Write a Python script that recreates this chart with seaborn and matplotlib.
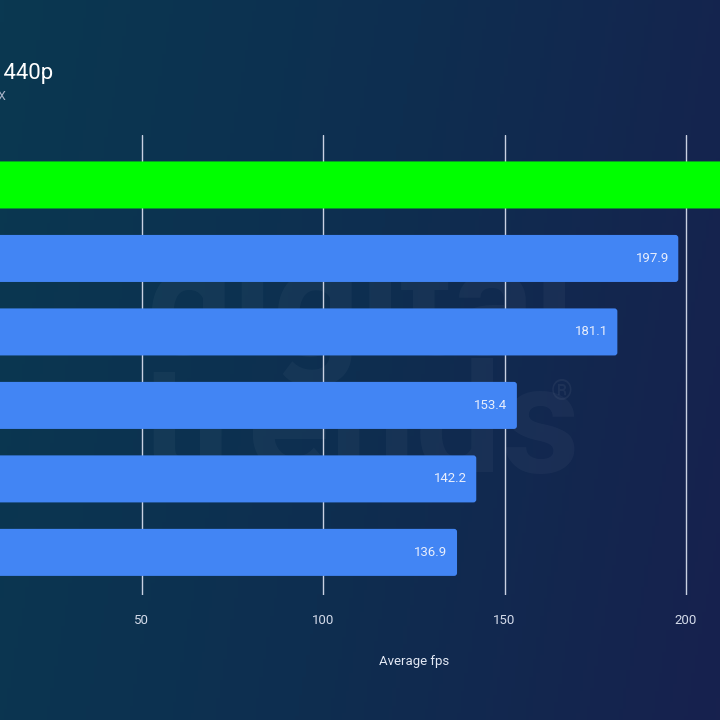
import numpy as np
import pandas as pd
import matplotlib
matplotlib.use("Agg")
import matplotlib.pyplot as plt
import seaborn as sns
from matplotlib.patches import FancyBboxPatch
from matplotlib.colors import LinearSegmentedColormap

# Données (les libellés des catégories sont hors cadre dans l'image)
categories = ["Config 1", "Config 2", "Config 3", "Config 4", "Config 5", "Config 6"]
fps = [224.0, 197.9, 181.1, 153.4, 142.2, 136.9]
bar_colors = ["#00ff00", "#4285f4", "#4285f4", "#4285f4", "#4285f4", "#4285f4"]
x_ticks = [50, 100, 150, 200]

df = pd.DataFrame({"config": categories, "fps": fps})

sns.set_theme(style="white")
plt.rcParams["font.family"] = ["Roboto", "DejaVu Sans"]

fig = plt.figure(figsize=(7.2, 7.2), dpi=100)

# fond en dégradé (surtout horizontal)
bg = fig.add_axes([0, 0, 1, 1], zorder=0)
xx, yy = np.meshgrid(np.linspace(0, 1, 200), np.linspace(0, 1, 200))
t = np.clip(0.85 * xx + 0.15 * yy, 0, 1)
cmap = LinearSegmentedColormap.from_list("bg", ["#0a3851", "#0e2e50", "#17214e"])
bg.imshow(t, cmap=cmap, extent=[0, 1, 0, 1], aspect="auto", origin="upper")
bg.set_axis_off()

# watermark très discret
bg.text(0.50, 0.565, "digital", fontsize=110, fontweight="bold", color="white",
        alpha=0.035, ha="center", va="center", transform=bg.transAxes)
bg.text(0.50, 0.40, "trends", fontsize=110, fontweight="bold", color="white",
        alpha=0.035, ha="center", va="center", transform=bg.transAxes)
bg.text(0.78, 0.455, "®", fontsize=20, color="white",
        alpha=0.05, ha="center", va="center", transform=bg.transAxes)

# axe principal : 0 fps est hors cadre à gauche
W = 720
left_px, right_px = -39.5, -39.5 + 250 * 3.627
ax = fig.add_axes([left_px / W, (720 - 595) / 720, (right_px - left_px) / W, 460 / 720], zorder=1)
ax.patch.set_alpha(0)

sns.barplot(data=df, x="fps", y="config", hue="config", palette=bar_colors,
            legend=False, width=0.64, ax=ax, zorder=3, saturation=1)

ax.set_xlim(0, 250)
ax.set_ylim(5.58, -0.68)

# coins arrondis
aspect = (0.041 / 0.83)
for p, c in zip(list(ax.patches), bar_colors):
    x0, y0 = p.get_x(), p.get_y()
    w, h = p.get_width(), p.get_height()
    p.remove()
    ax.add_patch(FancyBboxPatch((x0, y0), w, h,
                                boxstyle="round,pad=0,rounding_size=0.8",
                                mutation_aspect=aspect, fc=c, ec="none", zorder=3))

for i, v in enumerate(fps):
    ax.text(v - 2.6, i, f"{v:.1f}", ha="right", va="center", color="#e8eefc",
            fontsize=9.5, zorder=4)

ax.set_xticks(x_ticks)
ax.set_xticklabels([str(t) for t in x_ticks], color="#d4dbea", fontsize=9.5)
ax.tick_params(axis="x", length=0, pad=14)
ax.set_yticks([])
ax.grid(axis="x", color="#c9d1e2", linewidth=1, zorder=0)
ax.set_axisbelow(True)
for s in ax.spines.values():
    s.set_visible(False)
ax.set_xlabel("Average fps", color="#e2e8f4", fontsize=9.5, labelpad=20)
ax.set_ylabel("")

# titre et sous-titre (en partie hors cadre)
fig.text(53 / W, 1 - 74 / 720, "1440p", ha="right", va="center", color="white", fontsize=16)
fig.text(6 / W, 1 - 97 / 720, "RTX", ha="right", va="center", color="#aab4c8", fontsize=9)

fig.savefig("out.png", dpi=100)
